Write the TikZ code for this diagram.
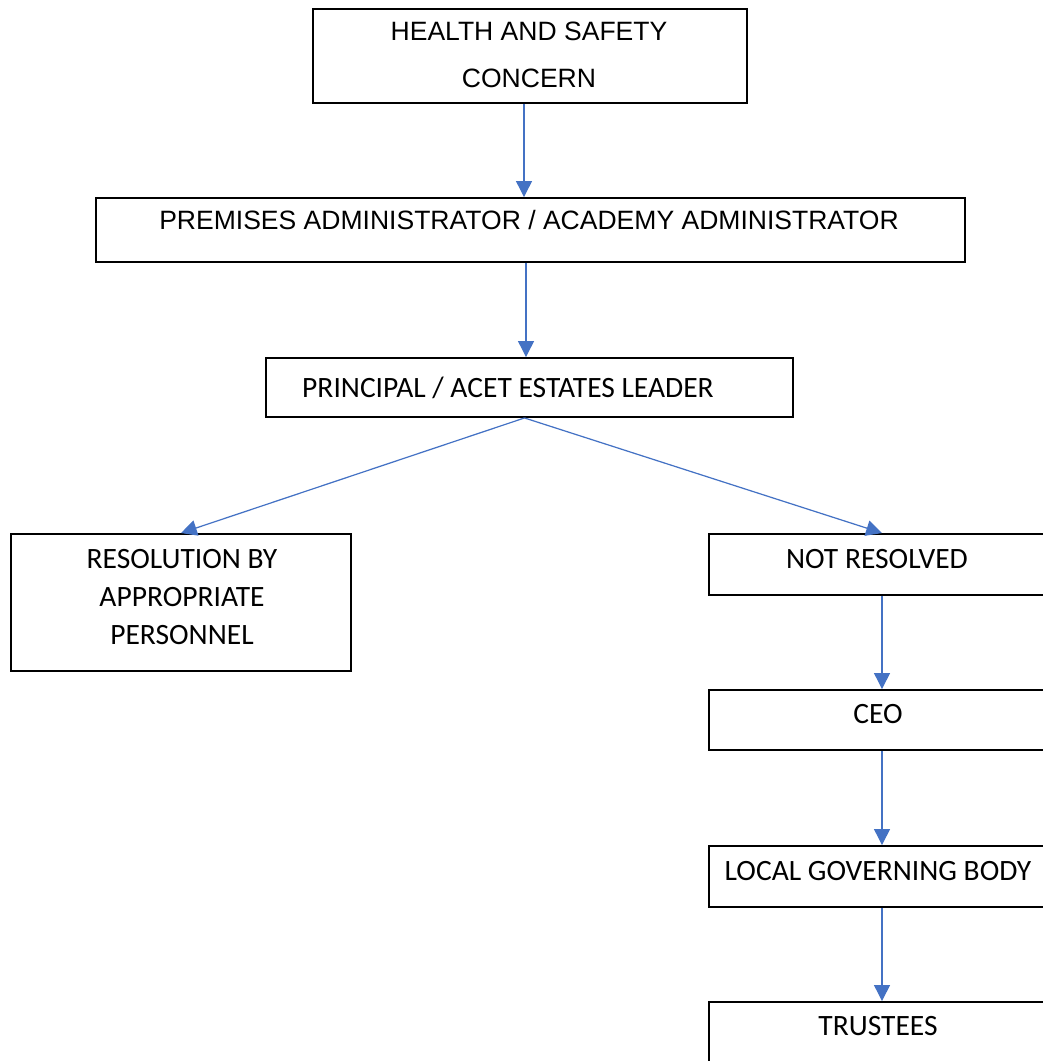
\documentclass[tikz,border=0pt]{standalone}
\usepackage{fontspec}
\setmainfont{Carlito}
\newfontfamily\arialfont{Liberation Sans}
\usetikzlibrary{positioning,arrows.meta,calc}
\definecolor{flowblue}{RGB}{68,114,196}
\tikzset{
  box/.style={draw,line width=1.1pt,inner sep=0pt},
  lbl/.style={font=\fontsize{16.8}{21.5}\selectfont,align=center,inner sep=0pt},
  albl/.style={font=\arialfont\fontsize{15.1}{27}\selectfont,align=center,inner sep=0pt},
  flow/.style={flowblue,line width=0.7pt,-{Triangle[length=9pt,width=9pt]}}
}

\begin{document}
\begin{tikzpicture}[x=0.02cm,y=-0.02cm]
  \useasboundingbox (0,0) rectangle (1043,1061);
  % boxes
  \node[box,minimum width=8.68cm,minimum height=1.88cm] (hsc) at (530,56) {};
  \node[box,minimum width=17.38cm,minimum height=1.28cm] (adm) at (530.5,230) {};
  \node[box,minimum width=10.54cm,minimum height=1.18cm] (lead) at (529.5,387.5) {};
  \node[box,minimum width=6.8cm,minimum height=2.74cm] (resol) at (181,602.5) {};
  \node[box,minimum width=6.92cm,minimum height=1.22cm] (notres) at (882,564.5) {};
  \node[box,minimum width=6.92cm,minimum height=1.2cm] (ceo) at (882,720) {};
  \node[box,minimum width=6.92cm,minimum height=1.22cm] (lgb) at (882,876.5) {};
  \node[box,minimum width=6.92cm,minimum height=1.2cm] (trust) at (882,1032) {};
  % texts
  \node[albl] (hsct) at (529,55) {HEALTH AND SAFETY\\CONCERN};
  \node[albl] (admt) at (529,220) {PREMISES ADMINISTRATOR / ACADEMY ADMINISTRATOR};
  \node[lbl] (leadt) at (508,388) {PRINCIPAL / ACET ESTATES LEADER};
  \node[lbl] (resolt) at (182,597) {RESOLUTION BY\\APPROPRIATE\\PERSONNEL};
  \node[lbl] (notrest) at (877,559) {NOT RESOLVED};
  \node[lbl] (ceot) at (878,714) {CEO};
  \node[lbl] (lgbt) at (878,871) {LOCAL GOVERNING BODY};
  \node[lbl] (trustt) at (878,1026) {TRUSTEES};
  % connectors
  \draw[flow] ([xshift=-0.12cm]hsc.south) -- ([xshift=-0.12cm]hsc.south |- adm.north);
  \draw[flow] ([xshift=-0.09cm]adm.south) -- ([xshift=-0.09cm]adm.south |- lead.north);
  \draw[flow] ([xshift=-0.1cm]lead.south) -- (resol.north);
  \draw[flow] ([xshift=-0.1cm]lead.south) -- (notres.north);
  \draw[flow] (notres.south) -- (ceo.north);
  \draw[flow] (ceo.south) -- (lgb.north);
  \draw[flow] (lgb.south) -- (trust.north);
\end{tikzpicture}
\end{document}
